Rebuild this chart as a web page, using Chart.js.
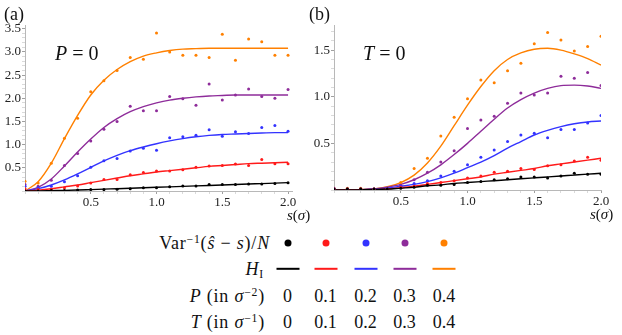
<!DOCTYPE html>
<html>
<head>
<meta charset="utf-8">
<script src="https://cdn.jsdelivr.net/npm/chart.js@4"></script>
<style>
  body { margin: 0; background: #fff; width: 622px; height: 335px; overflow: hidden; position: relative;
         font-family: "Liberation Serif", "DejaVu Serif", serif; color: #111; }
  .box { position: absolute; top: 0; height: 215px; }
  .t { position: absolute; white-space: nowrap; line-height: 1; transform: translateY(-50%); }
  .c { transform: translate(-50%, -50%); }
  .lab { letter-spacing: 0.8px; }
  i { font-style: italic; }
  sup { font-size: 0.65em; vertical-align: 0.55em; line-height: 0; }
  sub { font-size: 0.65em; vertical-align: -0.25em; line-height: 0; }
</style>
</head>
<body>
<div class="box" style="left:0;width:300px"><canvas id="chartA" width="300" height="215"></canvas></div>
<div class="box" style="left:300px;width:322px"><canvas id="chartB" width="322" height="215"></canvas></div>

<div class="t" style="left:4px;top:14px;font-size:18px">(a)</div>
<div class="t" style="left:309px;top:14px;font-size:18px">(b)</div>
<div class="t" style="left:55px;top:53px;font-size:20px"><i>P</i> = 0</div>
<div class="t" style="left:363px;top:53px;font-size:20px"><i>T</i> = 0</div>
<div class="t" style="left:287px;top:215px;font-size:15px"><i>s</i>(<i>σ</i>)</div>
<div class="t" style="left:590px;top:214px;font-size:15px"><i>s</i>(<i>σ</i>)</div>

<div class="t lab" style="right:352px;top:243px;font-size:18px">Var<sup>−1</sup>(<i>ŝ</i> − <i>s</i>)/<i>N</i></div>
<div class="t lab" style="right:358px;top:269px;font-size:18px"><i>H</i><sub>I</sub></div>
<div class="t lab" style="right:357px;top:296px;font-size:18px"><i>P</i> (in <i>σ</i><sup>−2</sup>)</div>
<div class="t lab" style="right:357px;top:322px;font-size:18px"><i>T</i> (in <i>σ</i><sup>−1</sup>)</div>
<div id="legend"></div>

<script>
// s values (in sigma)
var sVals = [0, 0.1, 0.2, 0.3, 0.4, 0.5, 0.6, 0.7, 0.8, 0.9, 1.0, 1.1, 1.2, 1.3, 1.4, 1.5, 1.6, 1.7, 1.8, 1.9, 2.0];

var colors = ['#000000', '#ff1a1a', '#3333ff', '#8e2c9a', '#ff8000'];
var pLabels = ['0', '0.1', '0.2', '0.3', '0.4'];
var tLabels = ['0', '0.1', '0.2', '0.3', '0.4'];

// panel (a): P = 0, data points Var^-1/N
var ptsA0 = [0.00, 0.00, 0.01, 0.01, 0.02, 0.03, 0.03, 0.04, 0.05, 0.07, 0.07, 0.09, 0.11, 0.11, 0.14, 0.14, 0.14, 0.15, 0.15, 0.16, 0.18];
var ptsA1 = [0.05, 0.03, 0.04, 0.07, 0.11, 0.17, 0.25, 0.25, 0.35, 0.40, 0.43, 0.43, 0.46, 0.51, 0.54, 0.55, 0.58, 0.55, 0.68, 0.59, 0.59];
var ptsA2 = [0.10, 0.07, 0.10, 0.20, 0.33, 0.51, 0.65, 0.70, 0.86, 0.92, 0.88, 1.15, 1.17, 1.20, 1.32, 1.18, 1.28, 1.24, 1.37, 1.41, 1.29];
var ptsA3 = [0.14, 0.10, 0.23, 0.55, 0.81, 1.08, 1.33, 1.50, 1.83, 1.73, 1.73, 2.04, 1.99, 1.85, 2.31, 1.96, 2.07, 2.20, 2.04, 2.00, 2.19];
var ptsA4 = [0.21, 0.17, 0.60, 1.14, 1.57, 2.14, 2.38, 2.60, 2.88, 2.84, 3.41, 3.00, 2.93, 2.93, 2.88, 3.38, 2.82, 3.28, 3.22, 2.93, 2.93];

// panel (a): H_I curves
var curA0 = [0, 0.003, 0.008, 0.013, 0.02, 0.03, 0.04, 0.05, 0.06, 0.07, 0.08, 0.09, 0.10, 0.11, 0.12, 0.13, 0.14, 0.15, 0.16, 0.17, 0.18];
var curA1 = [0, 0.02, 0.05, 0.09, 0.13, 0.18, 0.23, 0.28, 0.33, 0.37, 0.41, 0.44, 0.47, 0.50, 0.53, 0.55, 0.57, 0.59, 0.60, 0.61, 0.62];
var curA2 = [0, 0.05, 0.13, 0.24, 0.37, 0.51, 0.65, 0.77, 0.87, 0.95, 1.02, 1.08, 1.13, 1.17, 1.20, 1.22, 1.23, 1.24, 1.25, 1.26, 1.26];
var curA3 = [0, 0.08, 0.26, 0.54, 0.84, 1.12, 1.37, 1.56, 1.71, 1.82, 1.90, 1.96, 2.00, 2.03, 2.05, 2.06, 2.07, 2.07, 2.07, 2.07, 2.07];
var curA4 = [0, 0.20, 0.60, 1.13, 1.63, 2.07, 2.39, 2.62, 2.79, 2.91, 2.98, 3.03, 3.06, 3.07, 3.08, 3.08, 3.08, 3.08, 3.08, 3.08, 3.08];

// panel (b): T = 0, data points
var ptsB0 = [0.01, 0.01, 0.01, 0.01, 0.01, 0.02, 0.03, 0.05, 0.05, 0.06, 0.08, 0.09, 0.11, 0.12, 0.14, 0.14, 0.13, 0.15, 0.18, 0.17, 0.17];
var ptsB1 = [0.01, 0.01, 0.01, 0.01, 0.01, 0.03, 0.04, 0.07, 0.08, 0.10, 0.13, 0.15, 0.19, 0.20, 0.23, 0.22, 0.26, 0.27, 0.31, 0.35, 0.32];
var ptsB2 = [0.01, 0.01, 0.01, 0.01, 0.02, 0.04, 0.07, 0.10, 0.15, 0.20, 0.27, 0.35, 0.43, 0.52, 0.59, 0.61, 0.56, 0.65, 0.65, 0.72, 0.80];
var ptsB3 = [0.02, 0.01, 0.01, 0.01, 0.02, 0.05, 0.11, 0.19, 0.30, 0.42, 0.66, 0.75, 0.79, 0.93, 1.04, 1.02, 1.04, 1.22, 1.20, 1.26, 1.12];
var ptsB4 = [0.02, 0.02, 0.02, 0.01, 0.02, 0.08, 0.23, 0.34, 0.58, 0.78, 0.98, 1.18, 1.15, 1.28, 1.36, 1.57, 1.69, 1.61, 1.49, 1.54, 1.65];

// panel (b): H_I curves
var curB0 = [0, 0, 0.002, 0.005, 0.01, 0.02, 0.03, 0.045, 0.055, 0.07, 0.08, 0.09, 0.10, 0.11, 0.12, 0.13, 0.14, 0.15, 0.16, 0.17, 0.18];
var curB1 = [0, 0, 0.002, 0.005, 0.01, 0.025, 0.04, 0.06, 0.08, 0.10, 0.12, 0.14, 0.17, 0.19, 0.21, 0.23, 0.26, 0.28, 0.30, 0.32, 0.34];
var curB2 = [0, 0, 0.003, 0.01, 0.02, 0.04, 0.06, 0.09, 0.13, 0.18, 0.24, 0.30, 0.37, 0.45, 0.52, 0.59, 0.64, 0.68, 0.71, 0.73, 0.74];
var curB3 = [0, 0, 0.003, 0.01, 0.03, 0.06, 0.11, 0.18, 0.27, 0.38, 0.50, 0.63, 0.76, 0.88, 0.97, 1.04, 1.09, 1.12, 1.125, 1.115, 1.09];
var curB4 = [0, 0, 0.004, 0.012, 0.035, 0.08, 0.16, 0.29, 0.47, 0.69, 0.91, 1.11, 1.28, 1.40, 1.47, 1.51, 1.52, 1.50, 1.46, 1.41, 1.34];

// labelled ticks
var xTicks = [0.5, 1.0, 1.5, 2.0];
var yTicksA = [0.5, 1.0, 1.5, 2.0, 2.5, 3.0, 3.5];
var yTicksB = [0.5, 1.0, 1.5];

function xy(arr) {
    return arr.map(function(v, i) { return { x: sVals[i], y: v }; });
}

function isMajor(v, major) {
    return major.some(function(m) { return Math.abs(m - v) < 1e-6; });
}

function axis(max, major, fit) {
    return {
        type: 'linear', min: 0, max: max,
        afterFit: fit,
        border: { color: '#b8b8b8', width: 1 },
        grid: {
            drawOnChartArea: false, tickLength: 3,
            color: function(c) { return c.tick && isMajor(c.tick.value, major) ? '#a0a0a0' : '#dadada'; }
        },
        ticks: {
            stepSize: 0.1, maxTicksLimit: 100, autoSkip: false, includeBounds: false, maxRotation: 0,
            color: '#222', font: { family: 'Liberation Serif', size: 13 }, padding: 1,
            callback: function(v) { return isMajor(v, major) ? v.toFixed(1) : ''; }
        }
    };
}

function makePanel(id, pts, curves, o) {
    var datasets = [];
    for (var i = 0; i < 5; i++) {
        datasets.push({
            data: xy(curves[i]), showLine: true, borderColor: colors[i], borderWidth: 1.4,
            pointRadius: 0, cubicInterpolationMode: 'monotone', order: 1
        });
        datasets.push({
            data: xy(pts[i]), backgroundColor: colors[i], borderWidth: 0,
            pointRadius: 1.5, order: 0
        });
    }
    new Chart(document.getElementById(id), {
        type: 'scatter',
        data: { datasets: datasets },
        options: {
            responsive: false,
            animation: false,
            events: [],
            layout: { padding: o.padding },
            plugins: { legend: { display: false }, tooltip: { enabled: false } },
            scales: {
                x: axis(o.xmax, xTicks, function(s) { s.height = 18; }),
                y: axis(o.ymax, o.yTicks, function(s) { s.width = o.yWidth; })
            }
        }
    });
}

makePanel('chartA', [ptsA0, ptsA1, ptsA2, ptsA3, ptsA4], [curA0, curA1, curA2, curA3, curA4],
    { xmax: 2.03, ymax: 3.58, yTicks: yTicksA, yWidth: 25, padding: { left: 0, right: 8, top: 25, bottom: 6 } });
makePanel('chartB', [ptsB0, ptsB1, ptsB2, ptsB3, ptsB4], [curB0, curB1, curB2, curB3, curB4],
    { xmax: 2.0, ymax: 1.77, yTicks: yTicksB, yWidth: 34, padding: { left: 0, right: 21, top: 25, bottom: 7 } });

// legend table
var cols = [287.5, 325.5, 365.5, 404.5, 444];
var html = '';
for (var i = 0; i < 5; i++) {
    html += '<div class="t c" style="left:' + cols[i] + 'px;top:243px;width:7px;height:7px;border-radius:50%;background:' + colors[i] + '"></div>';
    html += '<div class="t c" style="left:' + cols[i] + 'px;top:269px;width:23px;height:2.4px;background:' + colors[i] + '"></div>';
    html += '<div class="t c" style="left:' + cols[i] + 'px;top:296px;font-size:18px">' + pLabels[i] + '</div>';
    html += '<div class="t c" style="left:' + cols[i] + 'px;top:322px;font-size:18px">' + tLabels[i] + '</div>';
}
document.getElementById('legend').innerHTML = html;
</script>
</body>
</html>
